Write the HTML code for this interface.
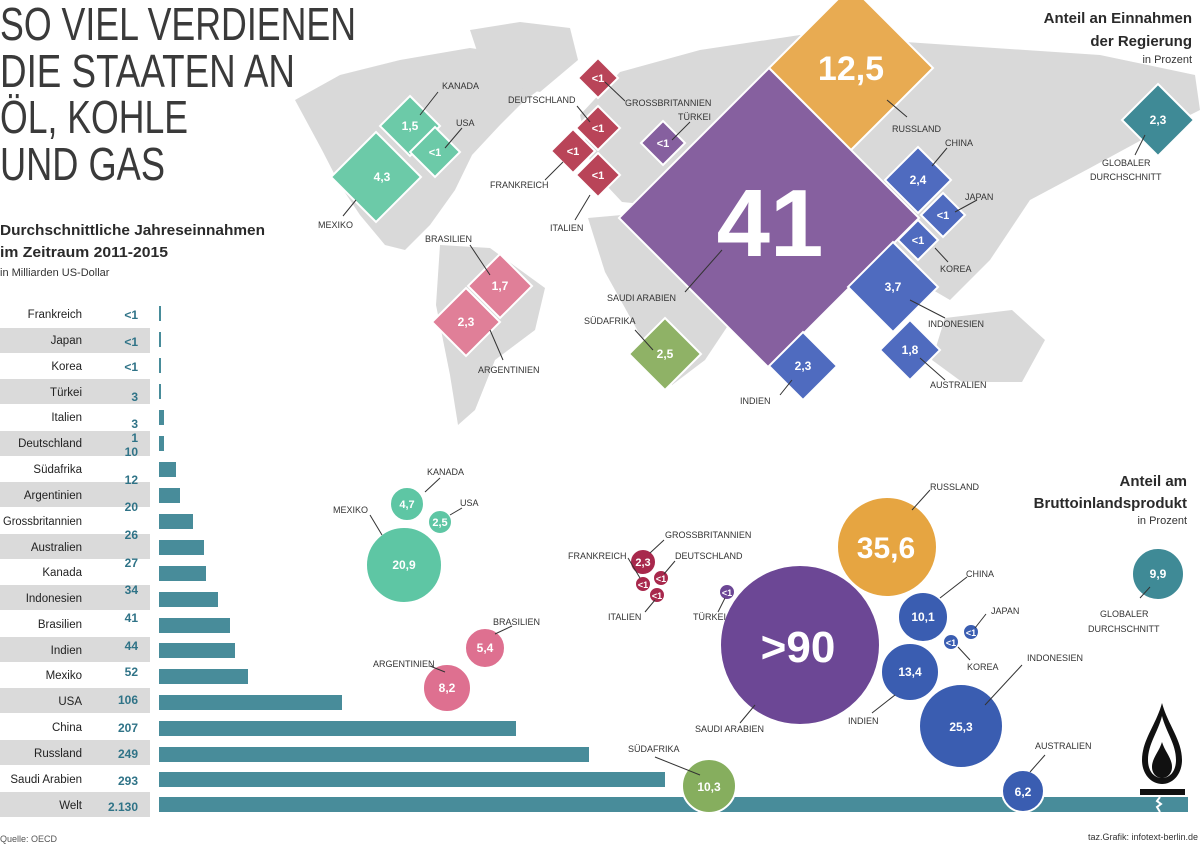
<!DOCTYPE html>
<html><head><meta charset="utf-8"><style>
html,body{margin:0;padding:0;background:#fff;}
svg{display:block;font-family:"Liberation Sans",sans-serif;}
.t{font-size:46px;fill:#3a3a3a;font-weight:normal;}
.h{font-size:15px;font-weight:bold;fill:#2a2a2a;}
.s{font-size:11px;fill:#333;}
.lb{font-size:9px;fill:#333;}
.n{font-size:11.5px;fill:#222;text-anchor:end;}
.v{font-size:12px;fill:#2f7387;font-weight:bold;text-anchor:end;}
.w{fill:#fff;font-weight:bold;text-anchor:middle;}
.ln{stroke:#333;stroke-width:1;fill:none;}
.d{stroke:#fff;stroke-width:2;}
</style></head><body>
<svg width="1200" height="844" viewBox="0 0 1200 844">
<!-- map -->
<g fill="#d9d9d9">
<path d="M295,100 L340,75 L400,60 L470,48 L520,55 L560,75 L525,100 L500,125 L472,155 L455,190 L430,225 L405,250 L385,245 L360,215 L340,185 L322,150 Z"/>
<path d="M470,30 L520,22 L570,28 L578,60 L540,92 L505,85 L480,60 Z"/>
<path d="M440,245 L490,248 L545,288 L535,330 L495,360 L475,410 L458,425 L450,375 L436,305 Z"/>
<path d="M580,115 L620,72 L700,50 L800,35 L950,45 L1100,55 L1195,75 L1200,110 L1160,130 L1090,168 L1030,200 L990,260 L950,300 L890,265 L830,250 L780,215 L700,210 L622,202 L592,170 Z"/>
<path d="M588,218 L700,208 L745,240 L745,300 L705,360 L672,385 L640,335 L605,272 Z"/>
<path d="M945,318 L1012,310 L1045,340 L1022,382 L962,382 L932,360 Z"/>
</g>
<!-- title -->
<text class="t" x="0" y="40" textLength="356" lengthAdjust="spacingAndGlyphs">SO VIEL VERDIENEN</text>
<text class="t" x="0" y="87" textLength="295" lengthAdjust="spacingAndGlyphs">DIE STAATEN AN</text>
<text class="t" x="0" y="133" textLength="188" lengthAdjust="spacingAndGlyphs">ÖL, KOHLE</text>
<text class="t" x="0" y="180" textLength="165" lengthAdjust="spacingAndGlyphs">UND GAS</text>
<text class="h" x="0" y="235" textLength="265" lengthAdjust="spacingAndGlyphs">Durchschnittliche Jahreseinnahmen</text>
<text class="h" x="0" y="257" textLength="168" lengthAdjust="spacingAndGlyphs">im Zeitraum 2011-2015</text>
<text class="s" x="0" y="276">in Milliarden US-Dollar</text>
<text class="h" x="1192" y="23" text-anchor="end">Anteil an Einnahmen</text>
<text class="h" x="1192" y="46" text-anchor="end">der Regierung</text>
<text class="s" x="1192" y="63" text-anchor="end">in Prozent</text>
<text class="h" x="1187" y="486" text-anchor="end">Anteil am</text>
<text class="h" x="1187" y="508" text-anchor="end">Bruttoinlandsprodukt</text>
<text class="s" x="1187" y="524" text-anchor="end">in Prozent</text>

<!-- diamonds -->
<g class="d">
<path fill="#e8ab52" d="M851,-14 L933,68 L851,150 L769,68 Z"/>
<path fill="#86609f" d="M769,68 L919,218 L769,368 L619,218 Z"/>
<path fill="#3f8a96" d="M1158,84 L1194,120 L1158,156 L1122,120 Z"/>
<path fill="#6ccaa8" d="M410,96 L440,126 L410,156 L380,126 Z"/>
<path fill="#6ccaa8" d="M435,127 L460,152 L435,177 L410,152 Z"/>
<path fill="#6ccaa8" d="M376,132 L421,177 L376,222 L331,177 Z"/>
<path fill="#b94458" d="M598,58 L618,78 L598,98 L578,78 Z"/>
<path fill="#b94458" d="M598,106 L620,128 L598,150 L576,128 Z"/>
<path fill="#b94458" d="M573,129 L595,151 L573,173 L551,151 Z"/>
<path fill="#b94458" d="M598,153 L620,175 L598,197 L576,175 Z"/>
<path fill="#86609f" d="M663,121 L685,143 L663,165 L641,143 Z"/>
<path fill="#4f6bbf" d="M918,147 L951,180 L918,213 L885,180 Z"/>
<path fill="#4f6bbf" d="M943,193 L965,215 L943,237 L921,215 Z"/>
<path fill="#4f6bbf" d="M918,220 L938,240 L918,260 L898,240 Z"/>
<path fill="#4f6bbf" d="M893,242 L938,287 L893,332 L848,287 Z"/>
<path fill="#4f6bbf" d="M910,320 L940,350 L910,380 L880,350 Z"/>
<path fill="#4f6bbf" d="M803,332 L837,366 L803,400 L769,366 Z"/>
<path fill="#8fb266" d="M665,318 L701,354 L665,390 L629,354 Z"/>
<path fill="#e07f98" d="M500,254 L532,286 L500,318 L468,286 Z"/>
<path fill="#e07f98" d="M466,288 L500,322 L466,356 L432,322 Z"/>
</g>
<g class="w">
<text x="851" y="80" font-size="34">12,5</text>
<text x="770" y="256" font-size="96">41</text>
<text x="1158" y="124" font-size="12">2,3</text>
<text x="410" y="130" font-size="12">1,5</text>
<text x="435" y="156" font-size="11">&lt;1</text>
<text x="382" y="181" font-size="12">4,3</text>
<text x="598" y="82" font-size="11">&lt;1</text>
<text x="598" y="132" font-size="11">&lt;1</text>
<text x="573" y="155" font-size="11">&lt;1</text>
<text x="598" y="179" font-size="11">&lt;1</text>
<text x="663" y="147" font-size="11">&lt;1</text>
<text x="918" y="184" font-size="12">2,4</text>
<text x="943" y="219" font-size="11">&lt;1</text>
<text x="918" y="244" font-size="11">&lt;1</text>
<text x="893" y="291" font-size="12">3,7</text>
<text x="910" y="354" font-size="12">1,8</text>
<text x="803" y="370" font-size="12">2,3</text>
<text x="665" y="358" font-size="12">2,5</text>
<text x="500" y="290" font-size="12">1,7</text>
<text x="466" y="326" font-size="12">2,3</text>
</g>
<g class="ln">
<path d="M438,92 L420,115"/><path d="M462,128 L445,148"/><path d="M343,216 L356,200"/>
<path d="M577,106 L590,122"/><path d="M625,101 L605,82"/><path d="M690,122 L672,140"/>
<path d="M545,180 L563,162"/><path d="M575,220 L590,195"/><path d="M470,245 L490,275"/>
<path d="M490,330 L503,360"/><path d="M685,292 L722,250"/><path d="M635,330 L653,350"/>
<path d="M780,395 L792,380"/><path d="M887,100 L907,117"/><path d="M947,148 L932,166"/>
<path d="M977,200 L955,212"/><path d="M948,262 L935,248"/><path d="M910,300 L945,318"/>
<path d="M920,358 L945,380"/><path d="M1145,135 L1135,155"/>
</g>
<g class="lb">
<text x="442" y="89">KANADA</text><text x="456" y="126">USA</text><text x="318" y="228">MEXIKO</text>
<text x="508" y="103">DEUTSCHLAND</text><text x="625" y="106">GROSSBRITANNIEN</text><text x="678" y="120">TÜRKEI</text>
<text x="490" y="188">FRANKREICH</text><text x="550" y="231">ITALIEN</text><text x="425" y="242">BRASILIEN</text>
<text x="478" y="373">ARGENTINIEN</text><text x="607" y="301">SAUDI ARABIEN</text><text x="584" y="324">SÜDAFRIKA</text>
<text x="740" y="404">INDIEN</text><text x="892" y="132">RUSSLAND</text><text x="945" y="146">CHINA</text>
<text x="965" y="200">JAPAN</text><text x="940" y="272">KOREA</text><text x="928" y="327">INDONESIEN</text>
<text x="930" y="388">AUSTRALIEN</text><text x="1102" y="166">GLOBALER</text><text x="1090" y="180">DURCHSCHNITT</text>
</g>

<!-- bars -->
<g fill="#dadada">
<rect x="0" y="328" width="150" height="25"/><rect x="0" y="379" width="150" height="25"/>
<rect x="0" y="431" width="150" height="25"/><rect x="0" y="482" width="150" height="25"/>
<rect x="0" y="534" width="150" height="25"/><rect x="0" y="585" width="150" height="25"/>
<rect x="0" y="637" width="150" height="25"/><rect x="0" y="688" width="150" height="25"/>
<rect x="0" y="740" width="150" height="25"/><rect x="0" y="792" width="150" height="25"/>
</g>
<g fill="#488c9a">
<rect x="159" y="306" width="2" height="15"/><rect x="159" y="332" width="2" height="15"/>
<rect x="159" y="358" width="2" height="15"/><rect x="159" y="384" width="2" height="15"/>
<rect x="159" y="410" width="5" height="15"/><rect x="159" y="436" width="5" height="15"/>
<rect x="159" y="462" width="17" height="15"/><rect x="159" y="488" width="21" height="15"/>
<rect x="159" y="514" width="34" height="15"/><rect x="159" y="540" width="45" height="15"/>
<rect x="159" y="566" width="47" height="15"/><rect x="159" y="592" width="59" height="15"/>
<rect x="159" y="618" width="71" height="15"/><rect x="159" y="643" width="76" height="15"/>
<rect x="159" y="669" width="89" height="15"/><rect x="159" y="695" width="183" height="15"/>
<rect x="159" y="721" width="357" height="15"/><rect x="159" y="747" width="430" height="15"/>
<rect x="159" y="772" width="506" height="15"/><rect x="159" y="797" width="1029" height="15"/>
</g>
<path d="M1160,797 l-3,4 l4,3 l-4,3 l3,5" stroke="#fff" stroke-width="2" fill="none"/>
<g class="n">
<text x="82" y="318">Frankreich</text><text x="82" y="344">Japan</text><text x="82" y="370">Korea</text>
<text x="82" y="396">Türkei</text><text x="82" y="421">Italien</text><text x="82" y="447">Deutschland</text>
<text x="82" y="473">Südafrika</text><text x="82" y="499">Argentinien</text><text x="82" y="525" textLength="79" lengthAdjust="spacingAndGlyphs">Grossbritannien</text>
<text x="82" y="551">Australien</text><text x="82" y="576">Kanada</text><text x="82" y="602">Indonesien</text>
<text x="82" y="628">Brasilien</text><text x="82" y="654">Indien</text><text x="82" y="679">Mexiko</text>
<text x="82" y="705">USA</text><text x="82" y="731">China</text><text x="82" y="757">Russland</text>
<text x="82" y="783">Saudi Arabien</text><text x="82" y="809">Welt</text>
</g>
<g class="v">
<text x="138" y="319">&lt;1</text><text x="138" y="346">&lt;1</text><text x="138" y="371">&lt;1</text>
<text x="138" y="401">3</text><text x="138" y="428">3</text><text x="138" y="442">1</text>
<text x="138" y="456">10</text><text x="138" y="484">12</text><text x="138" y="511">20</text>
<text x="138" y="539">26</text><text x="138" y="567">27</text><text x="138" y="594">34</text>
<text x="138" y="622">41</text><text x="138" y="650">44</text><text x="138" y="676">52</text>
<text x="138" y="704">106</text><text x="138" y="732">207</text><text x="138" y="758">249</text>
<text x="138" y="785">293</text><text x="138" y="811">2.130</text>
</g>
<text x="0" y="842" font-size="9" fill="#555">Quelle: OECD</text>
<text x="1198" y="840" font-size="9" fill="#333" text-anchor="end">taz.Grafik: infotext-berlin.de</text>

<!-- flame -->
<path d="M1162,703 C1168,725 1182,740 1182,760 C1182,774 1173,784 1162,784 C1151,784 1142,774 1142,760 C1142,740 1156,725 1162,703 Z" fill="#111"/>
<path d="M1162,716 C1166,732 1176,744 1176,760 C1176,771 1170,778 1162,778 C1154,778 1148,771 1148,760 C1148,744 1158,732 1162,716 Z" fill="#fff"/>
<path d="M1162,742 C1165,752 1172,758 1172,767 C1172,774 1167,778 1162,778 C1157,778 1152,774 1152,767 C1152,758 1159,752 1162,742 Z" fill="#111"/>
<rect x="1140" y="789" width="45" height="6" fill="#111"/>

<!-- circles -->
<g stroke="#fff" stroke-width="2">
<circle cx="407" cy="504" r="17" fill="#5ec6a4"/><circle cx="440" cy="522" r="12" fill="#5ec6a4"/>
<circle cx="404" cy="565" r="38" fill="#5ec6a4"/>
<circle cx="485" cy="648" r="20" fill="#de7090"/><circle cx="447" cy="688" r="24" fill="#de7090"/>
<circle cx="643" cy="562" r="13" fill="#a8284c"/><circle cx="661" cy="578" r="8" fill="#a8284c"/>
<circle cx="643" cy="584" r="8" fill="#a8284c"/><circle cx="657" cy="595" r="8" fill="#a8284c"/>
<circle cx="727" cy="592" r="8" fill="#6c4795"/>
<circle cx="800" cy="645" r="80" fill="#6c4795"/>
<circle cx="887" cy="547" r="50" fill="#e6a541"/>
<circle cx="923" cy="617" r="25" fill="#3a5db1"/><circle cx="971" cy="632" r="8" fill="#3a5db1"/>
<circle cx="951" cy="642" r="8" fill="#3a5db1"/><circle cx="910" cy="672" r="29" fill="#3a5db1"/>
<circle cx="961" cy="726" r="42" fill="#3a5db1"/><circle cx="1023" cy="791" r="21" fill="#3a5db1"/>
<circle cx="709" cy="786" r="27" fill="#86ae5e"/>
<circle cx="1158" cy="574" r="26" fill="#3f8a96"/>
</g>
<g class="w">
<text x="407" y="508" font-size="11">4,7</text><text x="440" y="526" font-size="11">2,5</text>
<text x="404" y="569" font-size="12">20,9</text><text x="485" y="652" font-size="12">5,4</text>
<text x="447" y="692" font-size="12">8,2</text><text x="643" y="566" font-size="11">2,3</text>
<text x="661" y="582" font-size="9">&lt;1</text><text x="643" y="588" font-size="9">&lt;1</text>
<text x="657" y="599" font-size="9">&lt;1</text><text x="727" y="596" font-size="9">&lt;1</text>
<text x="798" y="662" font-size="44">&gt;90</text><text x="886" y="558" font-size="30">35,6</text>
<text x="923" y="621" font-size="12">10,1</text><text x="971" y="636" font-size="9">&lt;1</text>
<text x="951" y="646" font-size="9">&lt;1</text><text x="910" y="676" font-size="12">13,4</text>
<text x="961" y="731" font-size="12">25,3</text><text x="1023" y="796" font-size="12">6,2</text>
<text x="709" y="791" font-size="12">10,3</text><text x="1158" y="578" font-size="12">9,9</text>
</g>
<g class="ln">
<path d="M440,478 L425,492"/><path d="M462,508 L450,515"/><path d="M370,515 L382,535"/>
<path d="M512,626 L495,634"/><path d="M430,666 L445,672"/><path d="M664,540 L650,553"/>
<path d="M628,558 L640,578"/><path d="M675,561 L664,574"/><path d="M645,612 L655,600"/>
<path d="M718,612 L725,598"/><path d="M740,723 L755,705"/><path d="M930,490 L912,510"/>
<path d="M967,577 L940,598"/><path d="M986,614 L975,628"/><path d="M970,660 L958,647"/>
<path d="M1022,665 L985,705"/><path d="M872,713 L895,695"/><path d="M655,757 L700,775"/>
<path d="M1045,755 L1030,772"/><path d="M1140,598 L1150,587"/>
</g>
<g class="lb">
<text x="427" y="475">KANADA</text><text x="460" y="506">USA</text><text x="333" y="513">MEXIKO</text>
<text x="493" y="625">BRASILIEN</text><text x="373" y="667">ARGENTINIEN</text><text x="665" y="538">GROSSBRITANNIEN</text>
<text x="568" y="559">FRANKREICH</text><text x="675" y="559">DEUTSCHLAND</text><text x="608" y="620">ITALIEN</text>
<text x="693" y="620">TÜRKEI</text><text x="695" y="732">SAUDI ARABIEN</text><text x="930" y="490">RUSSLAND</text>
<text x="966" y="577">CHINA</text><text x="991" y="614">JAPAN</text><text x="967" y="670">KOREA</text>
<text x="1027" y="661">INDONESIEN</text><text x="848" y="724">INDIEN</text><text x="628" y="752">SÜDAFRIKA</text>
<text x="1035" y="749">AUSTRALIEN</text><text x="1100" y="617">GLOBALER</text><text x="1088" y="632">DURCHSCHNITT</text>
</g>
</svg>
</body></html>
